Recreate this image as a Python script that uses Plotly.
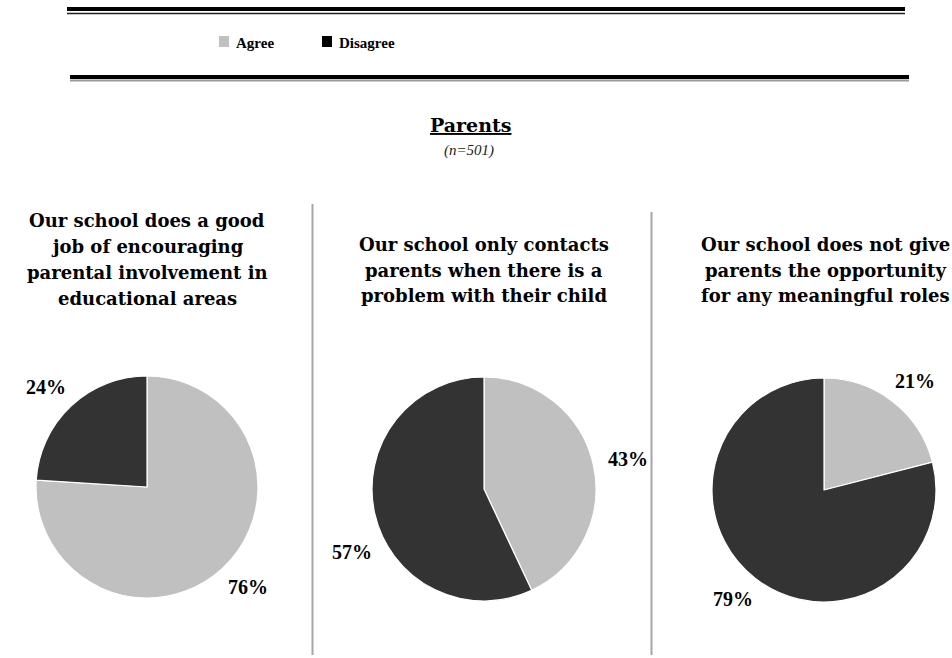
import math
import plotly.graph_objects as go

# Survey results (share of parents, %)
categories = ["Agree", "Disagree"]
questions = [
    ["Our school does a good", "job of encouraging", "parental involvement in", "educational areas"],
    ["Our school only contacts", "parents when there is a", "problem with their child"],
    ["Our school does not give", "parents the opportunity", "for any meaningful roles"],
]
agree_pct = [76, 43, 21]
disagree_pct = [24, 57, 79]
group_title = "Parents"
group_n = 501

W, H = 952, 658
colors = ["#C0C0C0", "#333333"]
SERIF = "Liberation Serif"
TITLE_FONT = "DejaVu Serif"

# pie boxes in pixels: (left, top, size)
pie_boxes = [(36, 376, 222), (372, 377, 224), (712, 378, 224)]
title_first_line = [220, 244, 244]
title_centers = [147, 484, 825]
line_step = 26
# labels nudged off their slice's mid angle: (pie, slice) -> degrees clockwise from 12 o'clock
label_angle_override = {(1, 1): 243}


def px(x):
    return x / W


def py(y):
    return 1 - y / H


fig = go.Figure()
annotations = []
shapes = []

for i, lines in enumerate(questions):
    left, top, size = pie_boxes[i]
    vals = [agree_pct[i], disagree_pct[i]]
    fig.add_trace(go.Pie(
        labels=categories,
        values=vals,
        sort=False,
        direction="clockwise",
        rotation=0,
        marker=dict(colors=colors, line=dict(color="white", width=1.2)),
        textinfo="none",
        hoverinfo="label+percent",
        showlegend=False,
        domain=dict(x=[px(left), px(left + size)], y=[py(top + size), py(top)]),
    ))

    # percentage labels placed just outside each slice
    cx, cy, r = left + size / 2, top + size / 2, size / 2
    total = sum(vals)
    start = 0.0
    for j, v in enumerate(vals):
        mid = (start + v / 2) / total * 2 * math.pi
        start += v
        if (i, j) in label_angle_override:
            mid = math.radians(label_angle_override[(i, j)])
        dx, dy = math.sin(mid), -math.cos(mid)
        lx = cx + (r + 18) * dx + 18 * dx
        ly = cy + (r + 18) * dy + 8 * dy
        annotations.append(dict(
            x=px(lx), y=py(ly), xref="paper", yref="paper",
            text=f"<b>{v}%</b>", showarrow=False,
            font=dict(family=SERIF, size=20, color="black"),
            xanchor="center", yanchor="middle",
        ))

    # question title, one annotation per line
    for k, line in enumerate(lines):
        annotations.append(dict(
            x=px(title_centers[i]), y=py(title_first_line[i] + k * line_step),
            xref="paper", yref="paper",
            text=f"<b>{line}</b>", showarrow=False,
            font=dict(family=TITLE_FONT, size=18, color="black"),
            xanchor="center", yanchor="middle",
        ))

# group heading
annotations.append(dict(
    x=px(470), y=py(125), xref="paper", yref="paper",
    text=f"<b><u>{group_title}</u></b>", showarrow=False,
    font=dict(family=TITLE_FONT, size=19, color="black"),
    xanchor="center", yanchor="middle",
))
annotations.append(dict(
    x=px(469), y=py(150), xref="paper", yref="paper",
    text=f"<i>(n={group_n})</i>", showarrow=False,
    font=dict(family=SERIF, size=15, color="#222222"),
    xanchor="center", yanchor="middle",
))

# legend keys
legend_items = [(219, colors[0], categories[0]), (322, "#000000", categories[1])]
for lx, col, name in legend_items:
    shapes.append(dict(type="rect", xref="paper", yref="paper",
                       x0=px(lx), x1=px(lx + 10), y0=py(47), y1=py(36),
                       fillcolor=col, line=dict(width=0)))
    annotations.append(dict(
        x=px(lx + 15), y=py(43), xref="paper", yref="paper",
        text=f"<b>{name}</b>", showarrow=False,
        font=dict(family=SERIF, size=15, color="black"),
        xanchor="left", yanchor="middle",
    ))

# double rules above and below the legend
rules = [
    (67, 905, 9, 4, "#000000"), (67, 905, 13.5, 1.5, "#222222"),
    (70, 909, 77, 4, "#000000"), (70, 909, 80.5, 2, "#9a9a9a"),
]
for x0, x1, y, w, col in rules:
    shapes.append(dict(type="line", xref="paper", yref="paper",
                       x0=px(x0), x1=px(x1), y0=py(y), y1=py(y),
                       line=dict(color=col, width=w)))

# vertical separators between panels
for sx, y0 in [(312.5, 204), (651.5, 212)]:
    shapes.append(dict(type="line", xref="paper", yref="paper",
                       x0=px(sx), x1=px(sx), y0=py(y0), y1=py(655),
                       line=dict(color="#A6A6A6", width=2)))

fig.update_layout(
    width=W, height=H,
    margin=dict(l=0, r=0, t=0, b=0),
    paper_bgcolor="white", plot_bgcolor="white",
    annotations=annotations, shapes=shapes,
    showlegend=False,
)

fig.write_html("out.html")
